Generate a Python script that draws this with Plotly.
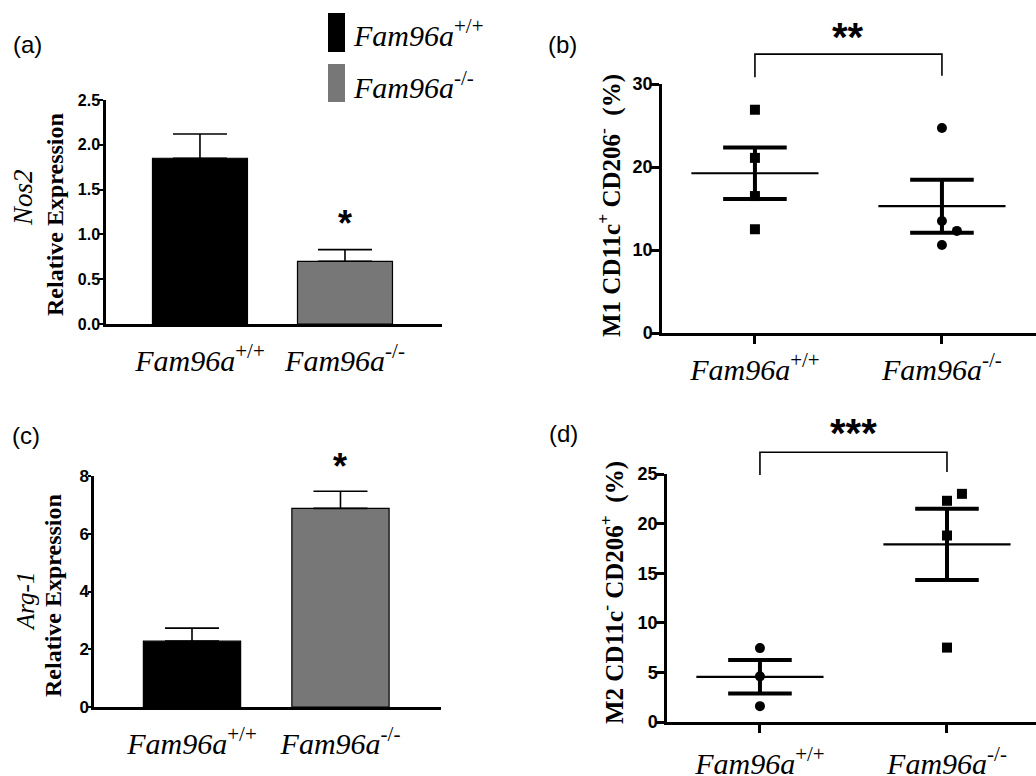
import numpy as np
import plotly.graph_objects as go

W, H = 1036, 776

# ---------------- data ----------------
group_labels = ["<i>Fam96a</i><sup>+/+</sup>", "<i>Fam96a</i><sup>-/-</sup>"]
group_pos = [0, 1]

nos2_mean = [1.85, 0.70]
nos2_err = [0.27, 0.13]
arg1_mean = [2.28, 6.88]
arg1_err = [0.45, 0.59]

m1_wt = [26.9, 21.1, 16.5, 12.5]
m1_wt_jitter = [0, 0, 0, 0]
m1_ko = [24.7, 13.5, 12.3, 10.6]
m1_ko_jitter = [0, 0, 0.08, 0]

m2_wt = [7.45, 4.6, 1.6]
m2_wt_jitter = [0, 0, 0]
m2_ko = [22.3, 23.0, 18.8, 7.5]
m2_ko_jitter = [0, 0.08, 0, 0]

nos2_ticks = [0, 0.5, 1.0, 1.5, 2.0, 2.5]
arg1_ticks = [0, 2, 4, 6, 8]
m1_ticks = [0, 10, 20, 30]
m2_ticks = [0, 5, 10, 15, 20, 25]

sig_a = "*"
sig_b = "**"
sig_c = "*"
sig_d = "***"

# ---------------- styles ----------------
BLACK = "#000000"
GRAY = "#777777"
SERIF = "Liberation Serif"
SANS = "Liberation Sans"


def xdom(p0, p1):
    return [p0 / W, p1 / W]


def ydom(top, bottom):
    return [1 - bottom / H, 1 - top / H]


def px(x):
    return x / W


def py(y):
    return 1 - y / H


fig = go.Figure()

# panel boxes in pixels: (left, right, top, bottom)
box = {
    "a": (106, 442, 100, 324),
    "b": (662, 1036, 84, 333),
    "c": (94, 441, 476, 707),
    "d": (667, 1036, 474, 722),
}
xr = {
    "a": [-0.648, 1.669],
    "b": [-0.497, 1.503],
    "c": [-0.66, 1.677],
    "d": [-0.497, 1.476],
}

# ---------- bar panels ----------
for key, ax, mean, err in [("a", "1", nos2_mean, nos2_err), ("c", "3", arg1_mean, arg1_err)]:
    fig.add_trace(go.Bar(
        x=group_pos, y=mean, width=0.655,
        marker=dict(color=[BLACK, GRAY], line=dict(color=BLACK, width=1.2)),
        error_y=dict(type="data", array=err, arrayminus=[0, 0], symmetric=False,
                     color=BLACK, thickness=1.6, width=27),
        xaxis="x" + ("" if ax == "1" else ax), yaxis="y" + ("" if ax == "1" else ax),
        showlegend=False,
    ))

# ---------- scatter panels ----------
def add_scatter(vals, jit, center, symbol, xa, ya):
    vals = np.array(vals, dtype=float)
    fig.add_trace(go.Scatter(
        x=[center + j for j in jit], y=vals, mode="markers",
        marker=dict(symbol=symbol, size=10, color=BLACK),
        xaxis=xa, yaxis=ya, showlegend=False, cliponaxis=False))
    m = vals.mean()
    sem = vals.std(ddof=1) / np.sqrt(len(vals))
    fig.add_trace(go.Scatter(
        x=[center - 0.34, center + 0.34], y=[m, m], mode="lines",
        line=dict(color=BLACK, width=2.2), xaxis=xa, yaxis=ya, showlegend=False))
    fig.add_trace(go.Scatter(
        x=[center - 0.17, center + 0.17, None, center, center, None,
           center - 0.17, center + 0.17],
        y=[m + sem, m + sem, None, m - sem, m + sem, None, m - sem, m - sem],
        mode="lines", line=dict(color=BLACK, width=4),
        xaxis=xa, yaxis=ya, showlegend=False))


add_scatter(m1_wt, m1_wt_jitter, 0, "square", "x2", "y2")
add_scatter(m1_ko, m1_ko_jitter, 1, "circle", "x2", "y2")
add_scatter(m2_wt, m2_wt_jitter, 0, "circle", "x4", "y4")
add_scatter(m2_ko, m2_ko_jitter, 1, "square", "x4", "y4")

# ---------- significance brackets (on helper axes extending above panels) ----------
ext_top = {"b": 5, "d": 395}
yfull = {"b": 30, "d": 25}
bracket = {"b": (30.8, 33.6, 31.0), "d": (24.9, 27.2, 25.2)}
star_y = {"b": 36.6, "d": 29.9}
helper = {"b": ("x5", "y5"), "d": ("x6", "y6")}
for key in ["b", "d"]:
    xa, ya = helper[key]
    lo_l, top, lo_r = bracket[key]
    fig.add_trace(go.Scatter(
        x=[0, 0, 1, 1], y=[lo_l, top, top, lo_r], mode="lines",
        line=dict(color=BLACK, width=1.6), xaxis=xa, yaxis=ya, showlegend=False))

# ---------- axes ----------
common_x = dict(showline=True, linecolor=BLACK, linewidth=2.5, showgrid=False,
                zeroline=False, tickmode="array", tickvals=group_pos, ticktext=group_labels,
                automargin=False,
                tickfont=dict(family=SERIF, size=30, color=BLACK))
common_y = dict(showline=True, linecolor=BLACK, linewidth=2.5, showgrid=False,
                zeroline=False, tickmode="array", ticks="outside", tickcolor=BLACK,
                automargin=False,
                tickfont=dict(family=SANS, size=16, color=BLACK, weight="bold"))

layout = dict(
    template="none",
    width=W, height=H, margin=dict(l=0, r=0, t=0, b=0, pad=0, autoexpand=False),
    paper_bgcolor="white", plot_bgcolor="rgba(0,0,0,0)", showlegend=False,
)

# a
l, r, t, b = box["a"]
layout["xaxis"] = dict(common_x, domain=xdom(l, r), range=xr["a"], anchor="y",
                       ticks="", ticklabelstandoff=8)
layout["yaxis"] = dict(common_y, domain=ydom(t, b), range=[0, 2.5], anchor="x",
                       tickvals=nos2_ticks, tickformat=".1f", ticklen=4, tickwidth=2,
                       ticklabelstandoff=-4)
# b
l, r, t, b = box["b"]
layout["xaxis2"] = dict(common_x, domain=xdom(l, r), range=xr["b"], anchor="y2",
                        ticks="outside", ticklen=8, tickwidth=2.5, tickcolor=BLACK,
                        ticklabelstandoff=0)
layout["yaxis2"] = dict(common_y, domain=ydom(t, b), range=[0, 30], anchor="x2",
                        tickvals=m1_ticks, ticklen=8, tickwidth=2.5, ticklabelstandoff=-5,
                        tickfont=dict(family=SANS, size=18, color=BLACK, weight="bold"))
# c
l, r, t, b = box["c"]
layout["xaxis3"] = dict(common_x, domain=xdom(l, r), range=xr["c"], anchor="y3",
                        ticks="", ticklabelstandoff=8)
layout["yaxis3"] = dict(common_y, domain=ydom(t, b), range=[0, 8], anchor="x3",
                        tickvals=arg1_ticks, ticklen=3, tickwidth=2, ticklabelstandoff=-4,
                        tickfont=dict(family=SANS, size=17, color=BLACK, weight="bold"))
# d
l, r, t, b = box["d"]
layout["xaxis4"] = dict(common_x, domain=xdom(l, r), range=xr["d"], anchor="y4",
                        ticks="outside", ticklen=8, tickwidth=2.5, tickcolor=BLACK,
                        ticklabelstandoff=5)
layout["yaxis4"] = dict(common_y, domain=ydom(t, b), range=[0, 25], anchor="x4",
                        tickvals=m2_ticks, ticklen=8, tickwidth=2.5, ticklabelstandoff=-5,
                        tickfont=dict(family=SANS, size=18, color=BLACK, weight="bold"))

# helper axes
for key, n in [("b", "5"), ("d", "6")]:
    l, r, t, b = box[key]
    top_px = ext_top[key]
    yr_top = yfull[key] * (b - top_px) / (b - t)
    layout["xaxis" + n] = dict(domain=xdom(l, r), range=xr[key], visible=False,
                               anchor="y" + n, fixedrange=True, automargin=False)
    layout["yaxis" + n] = dict(domain=ydom(top_px, b), range=[0, yr_top], visible=False,
                               anchor="x" + n, fixedrange=True, automargin=False)

fig.update_layout(**layout)

# ---------- annotations ----------
ann = []
# panel letters
for txt, x, y in [("(a)", 27, 44), ("(b)", 562, 44), ("(c)", 26, 435), ("(d)", 563, 433)]:
    ann.append(dict(text=txt, x=px(x), y=py(y),
                    font=dict(family=SANS, size=24, color=BLACK)))

# y titles
ann += [
    dict(text="<i>Nos2</i>", x=px(23), y=py(198), textangle=-90,
         font=dict(family=SERIF, size=27, color=BLACK)),
    dict(text="<b>Relative Expression</b>", x=px(55), y=py(215), textangle=-90,
         font=dict(family=SERIF, size=24, color=BLACK)),
    dict(text="<i>Arg-1</i>", x=px(25), y=py(602), textangle=-90,
         font=dict(family=SERIF, size=25, color=BLACK)),
    dict(text="<b>Relative Expression</b>", x=px(53), y=py(596), textangle=-90,
         font=dict(family=SERIF, size=24, color=BLACK)),
    dict(text="<b>M1 CD11c<sup>+</sup> CD206<sup>-</sup>  (%)</b>", x=px(610), y=py(206),
         textangle=-90, font=dict(family=SERIF, size=25, color=BLACK)),
    dict(text="<b>M2 CD11c<sup>-</sup> CD206<sup>+</sup>  (%)</b>", x=px(612), y=py(593),
         textangle=-90, font=dict(family=SERIF, size=25, color=BLACK)),
]
for a_ in ann:
    a_.setdefault("xref", "paper")
    a_.setdefault("yref", "paper")
    a_.setdefault("showarrow", False)
    a_.setdefault("xanchor", "center")
    a_.setdefault("yanchor", "middle")

# stars over bars
ann.append(dict(text=sig_a, x=1, y=nos2_mean[1] + nos2_err[1], xref="x", yref="y",
                xanchor="center", yanchor="bottom", yshift=4, showarrow=False,
                font=dict(family=SANS, size=36, color=BLACK, weight="bold")))
ann.append(dict(text=sig_c, x=1, y=arg1_mean[1] + arg1_err[1], xref="x3", yref="y3",
                xanchor="center", yanchor="bottom", yshift=2, showarrow=False,
                font=dict(family=SANS, size=36, color=BLACK, weight="bold")))
# stars over brackets
for key, txt in [("b", sig_b), ("d", sig_d)]:
    xa, ya = helper[key]
    ann.append(dict(text=txt, x=0.5, y=star_y[key], xref=xa, yref=ya,
                    xanchor="center", yanchor="middle", yshift=-8, showarrow=False,
                    font=dict(family=SANS, size=40, color=BLACK, weight="bold")))

# legend labels
for txt, y in [(group_labels[0], 33), (group_labels[1], 85)]:
    ann.append(dict(text=txt, x=px(351), y=py(y), xref="paper", yref="paper",
                    xanchor="left", yanchor="middle", showarrow=False,
                    font=dict(family=SERIF, size=30, color=BLACK)))

fig.update_layout(annotations=ann)

# legend swatches
fig.update_layout(shapes=[
    dict(type="rect", xref="paper", yref="paper", x0=px(328), x1=px(345),
         y0=py(52), y1=py(13), fillcolor=BLACK, line=dict(width=0)),
    dict(type="rect", xref="paper", yref="paper", x0=px(328), x1=px(345),
         y0=py(102), y1=py(64), fillcolor=GRAY, line=dict(width=0)),
])

fig.write_html("out.html", config={"displayModeBar": False},
               post_script="document.body.style.margin='0px';document.body.style.overflow='hidden';")
